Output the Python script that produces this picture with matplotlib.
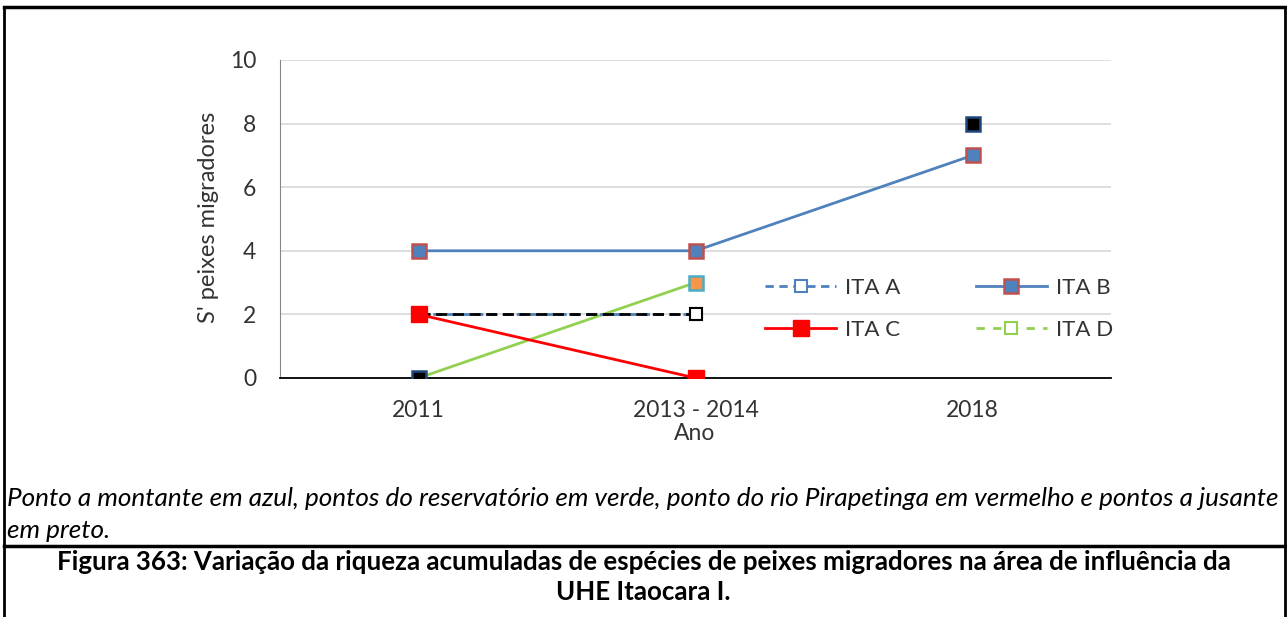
import numpy as np
import matplotlib
matplotlib.use('Agg')
import matplotlib.pyplot as plt
from matplotlib.lines import Line2D

plt.rcParams['font.family'] = ['Lato', 'DejaVu Sans']

# dados de riqueza acumulada por campanha
anos = ['2011', '2013 - 2014', '2018']
ita_a = [2, 2, np.nan]
ita_b = [4, 4, 7]
ita_c = [2, 0, np.nan]
ita_d = [0, 3, np.nan]
jusante_1 = [2, 2, np.nan]
jusante_2 = [0, np.nan, 8]
reservatorio_2 = [np.nan, 3, np.nan]

W, H = 1287, 617
fig = plt.figure(figsize=(W / 100, H / 100), dpi=100)

def fx(px):
    return px / W

def fy(py):
    return 1 - py / H

ax = fig.add_axes([fx(280), fy(378), fx(1111) - fx(280), fy(60) - fy(378)])
x = np.arange(len(anos))

ax.plot(x, ita_d, color='#92D050', lw=2, marker='s', ms=9, mfc='white',
        mec='#92D050', mew=1.5, label='ITA D', zorder=3)
ax.plot(x, ita_a, color='#4F81BD', lw=2, ls=(0, (3, 2)), marker='s', ms=9,
        mfc='white', mec='#4F81BD', mew=1.5, label='ITA A', zorder=3)
ax.plot(x, jusante_1, color='black', lw=2, ls=(0, (4, 2)), marker='s', ms=9,
        mfc='white', mec='black', mew=1.5, zorder=4)
ax.plot(x, ita_b, color='#4F81BD', lw=2, marker='s', ms=10, mfc='#4F81BD',
        mec='#C0504D', mew=1.8, label='ITA B', zorder=5)
ax.plot(x, ita_c, color='#FF0000', lw=2, marker='s', ms=11, mfc='#FF0000',
        mec='#FF0000', mew=1, label='ITA C', zorder=5)
ax.plot(x, jusante_2, ls='none', marker='s', ms=10, mfc='black',
        mec='#1F497D', mew=1.8, zorder=6)
ax.plot(x, reservatorio_2, ls='none', marker='s', ms=10, mfc='#F79646',
        mec='#4BACC6', mew=1.8, zorder=6)

ax.set_xlim(-0.5, 2.5)
ax.set_ylim(0, 10)
ax.set_yticks(range(0, 11, 2))
ax.set_xticks(x)
ax.set_xticklabels(anos)
ax.tick_params(length=0, labelsize=16.5, colors='#333333')
ax.tick_params(axis='x', pad=16)
ax.tick_params(axis='y', pad=17)
ax.yaxis.grid(True, color='#D9D9D9', lw=1.2)
ax.set_axisbelow(True)
for s in ['top', 'right']:
    ax.spines[s].set_visible(False)
ax.spines['left'].set_color('#868686')
ax.spines['bottom'].set_color('black')
ax.spines['bottom'].set_linewidth(1.3)

fig.text(fx(208), fy(217), "S' peixes migradores", rotation=90, ha='center', va='center',
         fontsize=17, color='#333333')
fig.text(fx(695), fy(433), 'Ano', ha='center', va='center', fontsize=16.5, color='#333333')

# legenda em duas colunas (preenchida por coluna)
h, l = ax.get_legend_handles_labels()
ordem = ['ITA A', 'ITA C', 'ITA B', 'ITA D']
hd = {lab: hh for hh, lab in zip(h, l)}
leg = fig.legend([hd[o] for o in ordem], ordem, ncol=2, frameon=False,
                 loc='center left', bbox_to_anchor=(fx(765), fy(309)),
                 fontsize=16, handlelength=3.2, columnspacing=3.4,
                 labelspacing=1.0, borderpad=0, borderaxespad=0, handletextpad=0.4)
for t in leg.get_texts():
    t.set_color('#333333')
for ln in leg.get_lines():
    if ln.get_color() == '#92D050':
        ln.set_linestyle((0, (3, 3)))

fig.text(fx(7), fy(499), 'Ponto a montante em azul, pontos do reservatório em verde, ponto do rio '
         'Pirapetinga em vermelho e pontos a jusante', ha='left', va='center',
         fontsize=18.8, style='italic')
fig.text(fx(7), fy(531), 'em preto.', ha='left', va='center', fontsize=18.8, style='italic')

fig.text(0.5, fy(562), 'Figura 363: Variação da riqueza acumuladas de espécies de peixes '
         'migradores na área de influência da', ha='center', va='center',
         fontsize=18.6, fontweight='bold')
fig.text(0.5, fy(592), 'UHE Itaocara I.', ha='center', va='center',
         fontsize=18.6, fontweight='bold')

# molduras
borda = dict(color='black', transform=fig.transFigure)
fig.add_artist(Line2D([fx(4), fx(1285)], [fy(7), fy(7)], lw=2.5, **borda))
fig.add_artist(Line2D([fx(4), fx(4)], [fy(7), 0], lw=2, **borda))
fig.add_artist(Line2D([fx(1285), fx(1285)], [fy(7), 0], lw=2, **borda))
fig.add_artist(Line2D([fx(4), fx(1285)], [fy(546), fy(546)], lw=2.5, **borda))

fig.savefig('out.png', dpi=100)
